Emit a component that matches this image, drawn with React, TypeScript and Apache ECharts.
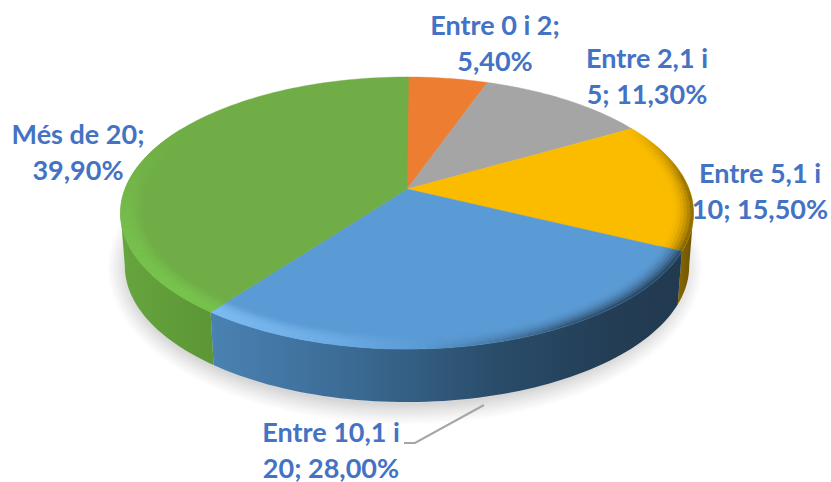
import React, { useEffect, useRef } from "react";
import * as echarts from "echarts";

const categories = ["Entre 0 i 2", "Entre 2,1 i 5", "Entre 5,1 i 10", "Entre 10,1 i 20", "Més de 20"];
const shares = [5.4, 11.3, 15.5, 28.0, 39.9];
const labelFirstLines = ["Entre 0 i 2;", "Entre 2,1 i", "Entre 5,1 i", "Entre 10,1 i", "Més de 20;"];
const labelSecondLines = ["5,40%", "5; 11,30%", "10; 15,50%", "20; 28,00%", "39,90%"];

const topColors = ["#ED7D31", "#A5A5A5", "#FBBC00", "#5B9BD5", "#70AD47"];
const lightColors = ["#ED7D31", "#A5A5A5", "#FFC000", "#84C1F8", "#78C44E"];
const darkColors = ["#ED7D31", "#A5A5A5", "#6B5200", "#233D55", "#5C9636"];
const sideStops: [number, string][][] = [
  [[0, "#ED7D31"], [1, "#ED7D31"]],
  [[0, "#A5A5A5"], [1, "#A5A5A5"]],
  [[0, "#8A6800"], [1, "#6B5200"]],
  [[0, "#4A82B3"], [0.28, "#3C6C96"], [0.6, "#2A4D6B"], [0.85, "#233D55"], [1, "#223A50"]],
  [[0, "#66A53E"], [1, "#5C9636"]],
];
const labelAnchors = [[495, 24], [647, 57], [760, 172], [331, 431], [78, 133]];
const leaderLine = [[484, 405], [415, 443], [404, 443]];

const CX = 407, CY = 189, KX = 282, KY = 131.8, P = 0.1765, DEPTH = 53;
const BEVEL_START = 0.925;

const rad = (d: number) => (d * Math.PI) / 180;
function project(theta: number, r: number, drop = 0): number[] {
  const s = Math.sin(rad(theta)), c = Math.cos(rad(theta));
  const d = 1 + P * r * c;
  const shrink = drop ? 0.985 : 1;
  return [CX + (shrink * KX * r * s) / d, CY - (KY * r * c) / d + drop];
}
function spans(i: number): [number, number] {
  let a = 0;
  for (let k = 0; k < i; k++) a += shares[k];
  return [(a / 100) * 360, ((a + shares[i]) / 100) * 360];
}
function arcAngles(a: number, b: number, step = 1.5) {
  const n = Math.max(1, Math.ceil((b - a) / step));
  return Array.from({ length: n + 1 }, (_, k) => a + ((b - a) * k) / n);
}
function hex(c: string) {
  return [1, 3, 5].map((p) => parseInt(c.slice(p, p + 2), 16));
}
function mix(a: string, b: string, t: number) {
  const x = hex(a), y = hex(b);
  return `rgb(${x.map((v, k) => Math.round(v + (y[k] - v) * t)).join(",")})`;
}
function lightAt(theta: number) {
  const pts = [[60, 0], [85, -0.75], [130, -1], [150, -0.85], [178, 0], [195, 0.5], [225, 1], [250, 0.8], [275, 0.35], [300, 0]];
  if (theta <= pts[0][0] || theta >= pts[pts.length - 1][0]) return 0;
  for (let k = 1; k < pts.length; k++) {
    if (theta <= pts[k][0]) {
      const t = (theta - pts[k - 1][0]) / (pts[k][0] - pts[k - 1][0]);
      return pts[k - 1][1] + (pts[k][1] - pts[k - 1][1]) * t;
    }
  }
  return 0;
}

function renderShadow() {
  const steps = 16;
  const angles = arcAngles(0, 360, 4);
  const children: any[] = [];
  for (let k = 0; k < steps; k++) {
    const grow = 20 * (1 - k / (steps - 1));
    children.push({
      type: "polygon",
      z2: k,
      shape: {
        points: angles.map((t) => [
          405 + (278 + grow) * Math.sin(rad(t)),
          268 - (137 + grow) * Math.cos(rad(t)),
        ]),
      },
      style: { fill: mix("#FFFFFF", "#D6D6D6", Math.pow((k + 1) / steps, 1.2)) },
    });
  }
  return { type: "group", children };
}

function renderSide(params: any) {
  const i = params.dataIndex;
  const [a0, b0] = spans(i);
  const a = Math.max(a0, 100), b = Math.min(b0, 260);
  if (b <= a) return { type: "group", children: [] };
  const angles = arcAngles(a, b);
  const top = angles.map((t) => project(t, 1));
  const bottom = angles.map((t) => project(t, 1, DEPTH)).reverse();
  const xs = [...top, ...bottom].map((p) => p[0]);
  const fill = new echarts.graphic.LinearGradient(Math.min(...xs), 0, Math.max(...xs), 0,
    sideStops[i].map(([offset, color]) => ({ offset, color })), true);
  return { type: "polygon", shape: { points: [...top, ...bottom] }, style: { fill } };
}

function renderTop(params: any) {
  const i = params.dataIndex;
  const [a, b] = spans(i);
  const angles = arcAngles(a, b);
  const children: any[] = [{
    type: "polygon",
    shape: { points: [project(0, 0), ...angles.map((t) => project(t, 1))] },
    style: { fill: topColors[i], stroke: topColors[i], lineWidth: 0.4 },
  }];
  const layers = 7;
  for (let q = 0; q < angles.length - 1; q++) {
    const t0 = angles[q], t1 = angles[q + 1], mid = (t0 + t1) / 2;
    const L = lightAt(mid);
    if (Math.abs(L) < 0.02) continue;
    for (let l = 0; l < layers; l++) {
      const r0 = BEVEL_START + ((1 - BEVEL_START) * l) / layers;
      const r1 = BEVEL_START + ((1 - BEVEL_START) * (l + 1)) / layers;
      const u = (l + 0.5) / layers;
      const color = L > 0
        ? mix(topColors[i], lightColors[i], L * Math.sin(Math.min(1, u / 0.8) * Math.PI / 2))
        : mix(topColors[i], darkColors[i], -L * u * u);
      children.push({
        type: "polygon",
        shape: { points: [project(t0, r0), project(t1, r0), project(t1, r1), project(t0, r1)] },
        style: { fill: color, stroke: color, lineWidth: 0.4 },
      });
    }
  }
  return { type: "group", children };
}

function renderLabel(params: any) {
  const i = params.dataIndex;
  const [x, y] = labelAnchors[i];
  const font = '700 27px Lato, "Open Sans", sans-serif';
  const line = (text: string, yy: number) => ({
    type: "text",
    style: { text, x, y: yy, font, fill: "#4472C4", align: "center", verticalAlign: "middle" },
  });
  return { type: "group", children: [line(labelFirstLines[i], y), line(labelSecondLines[i], y + 36)] };
}

const data = categories.map((name, k) => ({ name, value: shares[k] }));

export default function App() {
  const ref = useRef<HTMLDivElement>(null);
  useEffect(() => {
    document.body.style.margin = "0";
    const chart = echarts.init(ref.current!, undefined, { renderer: "svg" });
    chart.setOption({
      animation: false,
      graphic: [
        {
          type: "polyline", silent: true, z: 20,
          shape: { points: leaderLine },
          style: { stroke: "#A6A6A6", lineWidth: 2, fill: "none" },
        },
      ],
      series: [
        { type: "custom", coordinateSystem: "none", silent: true, z: 5, data: [{ name: "shadow", value: 1 }], renderItem: renderShadow },
        { type: "custom", coordinateSystem: "none", silent: true, z: 6, data, renderItem: renderSide },
        { type: "custom", coordinateSystem: "none", silent: true, z: 7, data, renderItem: renderTop },
        { type: "custom", coordinateSystem: "none", silent: true, z: 8, data, renderItem: renderLabel },
      ],
    });
    return () => chart.dispose();
  }, []);
  return <div ref={ref} style={{ width: 831, height: 482 }} />;
}
